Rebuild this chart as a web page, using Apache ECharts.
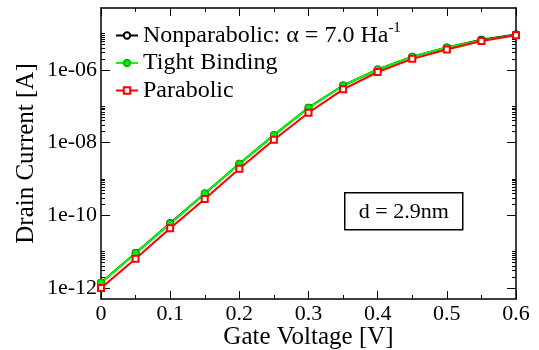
<!DOCTYPE html>
<html>
<head>
<meta charset="utf-8">
<script src="https://cdn.jsdelivr.net/npm/echarts@6/dist/echarts.min.js"></script>
<style>
  html, body { margin: 0; padding: 0; background: #fff; }
  #chart { width: 539px; height: 350px; }
</style>
</head>
<body>
<div id="chart"></div>
<script>
// gate voltage [V]
const gateVoltage = [0, 0.05, 0.1, 0.15, 0.2, 0.25, 0.3, 0.35, 0.4, 0.45, 0.5, 0.55, 0.6];

// drain current [A]
const nonparabolic = [1.4e-12, 9.2e-12, 6.0e-11, 4.0e-10, 2.6e-9, 1.6e-8, 9.1e-8, 3.7e-7, 1.02e-6, 2.3e-6, 4.1e-6, 6.7e-6, 9.4e-6];
const tightBinding = [1.4e-12, 9.1e-12, 5.9e-11, 4.0e-10, 2.6e-9, 1.6e-8, 9.0e-8, 3.7e-7, 1.02e-6, 2.3e-6, 4.1e-6, 6.5e-6, 9.1e-6];
const parabolic = [1.0e-12, 6.4e-12, 4.4e-11, 2.8e-10, 1.9e-9, 1.2e-8, 6.6e-8, 2.9e-7, 8.7e-7, 2.0e-6, 3.6e-6, 6.2e-6, 8.9e-6];

const seriesNames = ['Nonparabolic: α = 7.0 Ha', 'Tight Binding', 'Parabolic'];

// y axis ticks
const majorTicks = [1e-12, 1e-10, 1e-8, 1e-6];
const minorTicks = [];
majorTicks.forEach(m => {
  for (let k = 2; k <= 10; k++) minorTicks.push(k * m);
});

const FONT = 'Liberation Serif';

const pairs = ys => gateVoltage.map((x, i) => [x, ys[i]]);

const fmtExp = v => {
  const e = Math.round(Math.log10(v));
  return '1e-' + String(-e).padStart(2, '0');
};

const yBase = {
  type: 'log',
  min: 5e-13,
  max: 5e-5,
  splitLine: { show: false },
};

const option = {
  animation: false,
  grid: { left: 101, right: 23, top: 8, bottom: 51, outerBoundsMode: 'none' },
  legend: {
    orient: 'vertical',
    left: 115,
    top: 21,
    padding: 0,
    itemGap: 3.5,
    itemWidth: 22,
    itemHeight: 8,
    data: seriesNames,
    formatter: name => name === seriesNames[0] ? name + '{sup|-1}' : name,
    textStyle: {
      fontFamily: FONT,
      fontSize: 24,
      color: '#000',
      lineHeight: 24,
      rich: {
        sup: { fontFamily: FONT, fontSize: 15, color: '#000', padding: [0, 0, 14, 0] },
      },
    },
  },
  xAxis: [
    {
      type: 'value',
      min: 0,
      max: 0.6,
      interval: 0.1,
      name: 'Gate Voltage [V]',
      nameLocation: 'middle',
      nameGap: 26,
      nameMoveOverlap: false,
      nameTextStyle: { fontFamily: FONT, fontSize: 25, color: '#000' },
      axisLine: { lineStyle: { color: '#000', width: 1.5 } },
      axisTick: { inside: true, length: 8, lineStyle: { color: '#000' } },
      minorTick: { show: true, splitNumber: 2, length: 4, lineStyle: { color: '#000' } },
      axisLabel: { fontFamily: FONT, fontSize: 22, color: '#000', margin: 4 },
      splitLine: { show: false },
    },
    {
      type: 'value',
      position: 'top',
      min: 0,
      max: 0.6,
      interval: 0.1,
      axisLine: { lineStyle: { color: '#000', width: 1.5 } },
      axisTick: { inside: true, length: 8, lineStyle: { color: '#000' } },
      minorTick: { show: true, splitNumber: 2, length: 4, lineStyle: { color: '#000' } },
      axisLabel: { show: false },
      splitLine: { show: false },
    },
  ],
  yAxis: [
    Object.assign({}, yBase, {
      position: 'left',
      name: 'Drain Current [A]',
      nameLocation: 'middle',
      nameGap: 62,
      nameMoveOverlap: false,
      nameTextStyle: { fontFamily: FONT, fontSize: 25, color: '#000' },
      axisLine: { show: true, lineStyle: { color: '#000', width: 1.5 } },
      axisTick: { inside: true, length: 9, customValues: majorTicks, lineStyle: { color: '#000' } },
      axisLabel: { customValues: majorTicks, formatter: fmtExp, fontFamily: FONT, fontSize: 22, color: '#000', margin: 4 },
    }),
    Object.assign({}, yBase, {
      position: 'left',
      axisLine: { show: false },
      axisTick: { inside: true, length: 4, customValues: minorTicks, lineStyle: { color: '#000' } },
      axisLabel: { show: false },
    }),
    Object.assign({}, yBase, {
      position: 'right',
      axisLine: { show: true, lineStyle: { color: '#000', width: 1.5 } },
      axisTick: { inside: true, length: 9, customValues: majorTicks, lineStyle: { color: '#000' } },
      axisLabel: { show: false },
    }),
    Object.assign({}, yBase, {
      position: 'right',
      axisLine: { show: false },
      axisTick: { inside: true, length: 4, customValues: minorTicks, lineStyle: { color: '#000' } },
      axisLabel: { show: false },
    }),
  ],
  series: [
    {
      name: seriesNames[0],
      type: 'line',
      data: pairs(nonparabolic),
      symbol: 'emptyCircle',
      symbolSize: 6,
      lineStyle: { color: '#000', width: 2 },
      itemStyle: { color: '#000', borderColor: '#000', borderWidth: 1.5 },
    },
    {
      name: seriesNames[1],
      type: 'line',
      data: pairs(tightBinding),
      symbol: 'circle',
      symbolSize: 7,
      lineStyle: { color: '#00ff00', width: 2 },
      itemStyle: { color: '#00ee00', borderColor: '#00bb00', borderWidth: 1 },
    },
    {
      name: seriesNames[2],
      type: 'line',
      data: pairs(parabolic),
      symbol: 'emptyRect',
      symbolSize: 6,
      lineStyle: { color: '#ff0000', width: 2 },
      itemStyle: { color: '#ff0000', borderColor: '#ff0000', borderWidth: 1.5 },
    },
  ],
  graphic: [
    {
      type: 'group',
      left: 344,
      top: 192,
      children: [
        {
          type: 'rect',
          shape: { x: 0, y: 0, width: 118, height: 37 },
          style: { fill: '#fff', stroke: '#000', lineWidth: 1.5 },
        },
        {
          type: 'text',
          x: 59,
          y: 19,
          style: {
            text: 'd = 2.9nm',
            fontFamily: FONT,
            fontSize: 22,
            fill: '#000',
            align: 'center',
            verticalAlign: 'middle',
          },
        },
      ],
    },
  ],
};

const chart = echarts.init(document.getElementById('chart'), null, { renderer: 'canvas' });
chart.setOption(option);
</script>
</body>
</html>
